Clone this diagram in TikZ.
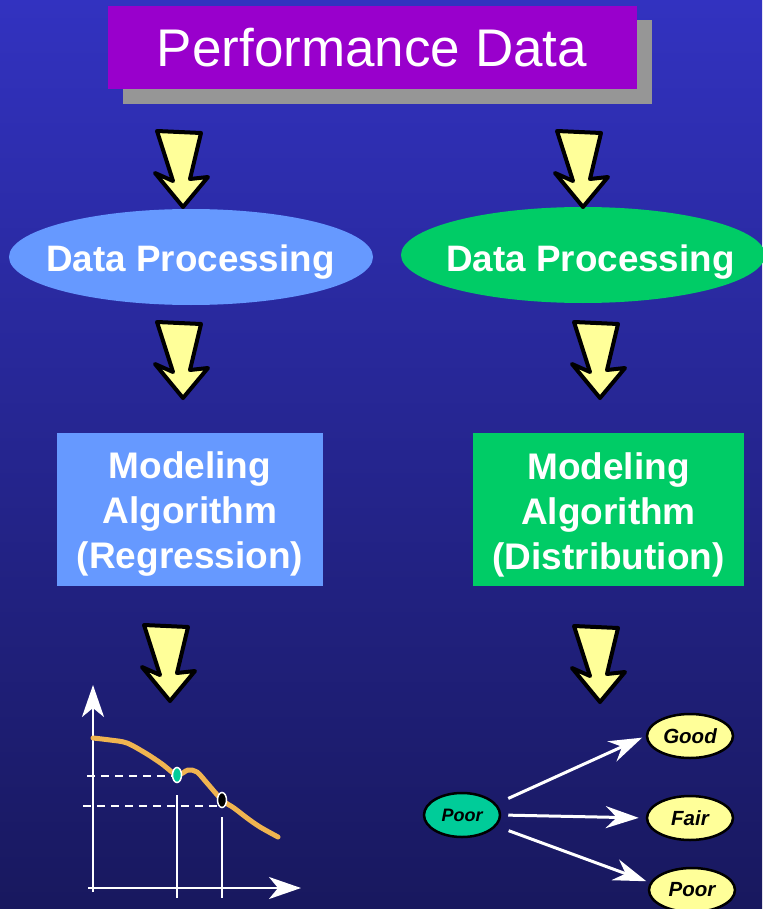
\documentclass[tikz,border=0pt]{standalone}
\usepackage{fontspec}
\setmainfont{Liberation Sans}
\usetikzlibrary{shapes.geometric,arrows.meta}

\definecolor{bgtop}{RGB}{50,50,192}
\definecolor{bgbottom}{RGB}{24,24,94}
\definecolor{titlepurple}{HTML}{9900CC}
\definecolor{shadowgray}{HTML}{969696}
\definecolor{procblue}{HTML}{6699FF}
\definecolor{procgreen}{HTML}{00CC66}
\definecolor{arrowyellow}{HTML}{FFFF99}
\definecolor{stateteal}{HTML}{00CC99}
\definecolor{curveorange}{RGB}{240,180,80}

\tikzset{
  fs/.style={font=\fontsize{#1}{#1}\selectfont},
  procellipse/.style={ellipse, inner sep=0pt, minimum width=364pt, minimum height=96pt},
  proctext/.style={anchor=base, inner sep=0pt, text=white,
    font=\bfseries\fontsize{36.8}{44}\selectfont},
  modelbox/.style={rectangle, inner sep=0pt, minimum height=153pt},
  modeltext/.style={align=center, inner sep=0pt, text=white,
    font=\bfseries\fontsize{37}{45}\selectfont},
  stateoval/.style={ellipse, draw=black, line width=2.5pt, inner sep=0pt,
    minimum width=86pt, minimum height=44pt, font=\bfseries\itshape\fontsize{20.5}{24}\selectfont},
  arrowbody/.style={fill=arrowyellow, draw=black, line width=4pt, line join=round},
  downarrow/.pic={
    \draw[arrowbody] (-26,-76) -- (18,-74) -- (7,-28) -- (25,-30) -- (0,0)
      -- (-28,-34) -- (-10,-26) -- cycle;
  },
  whitearrow/.style={draw=white, line width=3pt,
    -{Stealth[length=33pt, width=22pt, inset=11pt]}},
  axis/.style={draw=white, line width=2.5pt,
    -{Stealth[length=32pt, width=22pt, inset=9pt]}},
  guide/.style={draw=white, line width=2pt},
  dashguide/.style={guide, dash pattern=on 8pt off 6pt},
}

\begin{document}
\begin{tikzpicture}[x=1pt, y=-1pt]
  % canvas and background gradient
  \useasboundingbox (0,0) rectangle (762,909);
  \shade[top color=bgtop, bottom color=bgbottom] (0,0) rectangle (762,909);

  % title with drop shadow
  \fill[shadowgray] (123,20) rectangle (652,104);
  \node[fill=titlepurple, minimum width=529pt, minimum height=83pt, inner sep=0pt,
        text=white, fs=53] (title) at (372,47.5) {Performance Data};

  % processing stages
  \node[procellipse, fill=procblue]  (procL) at (191,257) {};
  \node[procellipse, fill=procgreen] (procR) at (583,255) {};
  \node[proctext] (procLtext) at (190.5,271) {Data Processing};
  \node[proctext] (procRtext) at (590.5,271) {Data Processing};

  % modelling stages
  \node[modelbox, fill=procblue, minimum width=266pt]  (modelL) at (190,509.5) {};
  \node[modelbox, fill=procgreen, minimum width=271pt] (modelR) at (608.5,509.5) {};
  \node[modeltext] (modelLtext) at (190,514.5) {Modeling\\Algorithm\\(Regression)};
  \node[modeltext] (modelRtext) at (608.5,514.5) {Modeling\\Algorithm\\(Distribution)};

  % flow arrows
  \pic at (183,207) {downarrow};
  \pic at (583,207) {downarrow};
  \pic at (183,398) {downarrow};
  \pic at (600,398) {downarrow};
  \pic at (170,701) {downarrow};
  \pic at (600,702) {downarrow};

  % regression chart: axes
  \coordinate (yfoot) at (93,892);
  \coordinate (ytop)  at (93,685);
  \coordinate (xfoot) at (88,888);
  \coordinate (xend)  at (301,888);
  \draw[axis] (yfoot) -- (ytop);
  \draw[axis] (xfoot) -- (xend);

  % regression chart: guide lines to the two marked points
  \coordinate (pA) at (177,775);
  \coordinate (pB) at (222,800);
  \draw[dashguide] (87,776) -- (172,776);
  \draw[dashguide] (83,806) -- (217,806);
  \draw[guide] (177,795) -- (177,898);
  \draw[guide] (222,817) -- (222,898);

  % regression chart: fitted curve
  \draw[curveorange, line width=5pt, line cap=round, line join=round]
    plot[smooth, tension=0.5] coordinates {
      (93,738) (110,740) (127,743) (147,754) (162,764) (177,775) (188,770)
      (197,772) (207,783) (222,800) (234,808) (247,818) (260,827) (278,837)};
  \fill[stateteal, draw=white, line width=1.5pt] (pA) ellipse [x radius=4.5pt, y radius=7.5pt];
  \fill[black, draw=white, line width=1.5pt] (pB) ellipse [x radius=4.5pt, y radius=7.5pt];

  % distribution: state transitions
  \node[stateoval, fill=stateteal, minimum width=76pt, font=\bfseries\itshape\fontsize{18}{22}\selectfont]
    (poorA) at (462,815) {Poor};
  \node[stateoval, fill=arrowyellow] (good)  at (690,736) {Good};
  \node[stateoval, fill=arrowyellow] (fair)  at (690,818) {Fair};
  \node[stateoval, fill=arrowyellow] (poorB) at (692,890) {Poor};

  \draw[whitearrow, shorten <=13pt, shorten >=4pt] (poorA.18) -- (good.west);
  \draw[whitearrow, shorten <=7pt, shorten >=7pt] (poorA.east) -- (fair.west);
  \draw[whitearrow, shorten <=13pt, shorten >=4pt] (poorA.-18) -- (poorB.170);
\end{tikzpicture}
\end{document}
